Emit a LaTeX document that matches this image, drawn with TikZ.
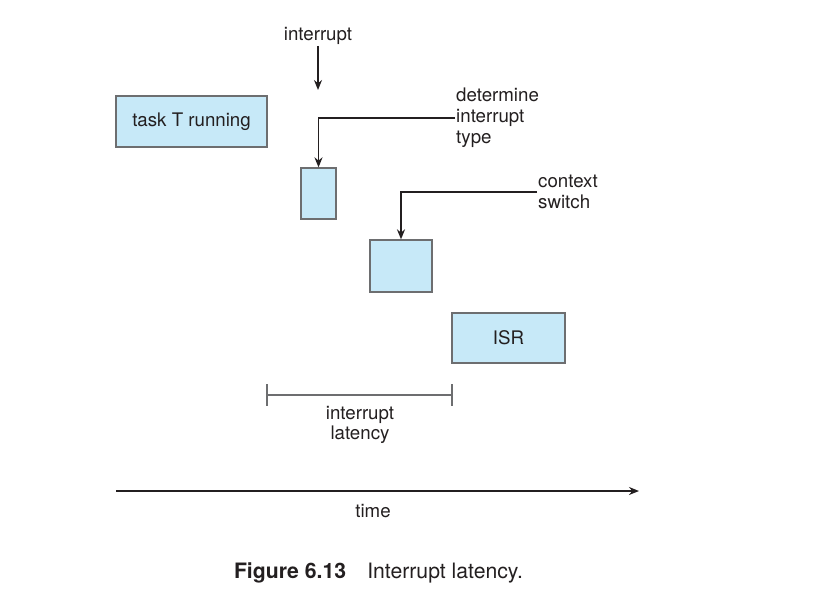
\documentclass[tikz,border=0pt]{standalone}
\usepackage{fontspec}
\setmainfont{TeX Gyre Heros}
\usetikzlibrary{arrows.meta,calc,positioning}
\definecolor{boxfill}{HTML}{C7E9F8}
\definecolor{boxline}{HTML}{6D6E70}
\definecolor{ink}{HTML}{231F20}
\tikzset{
  blk/.style   = {draw=boxline, line width=1.3pt, fill=boxfill, inner sep=0pt,
                  font=\fontsize{18.7}{20.8}\selectfont, text=ink},
  lbl/.style   = {inner sep=1pt, align=left, font=\fontsize{18.7}{20.8}\selectfont, text=ink},
  arr/.style   = {-{Stealth[length=10pt,width=8pt]}, line width=1.6pt, draw=ink},
  span/.style  = {line width=1.3pt, draw=boxline},
}

\begin{document}
\begin{tikzpicture}[x=1pt,y=-1pt]
  \useasboundingbox (0,0) rectangle (835,595);
  % boxes on the time line
  \node[blk, minimum width=151pt, minimum height=51pt] (task) at (191.5,121.5) {task T running};
  \node[blk, minimum width=35pt,  minimum height=51pt] (det)  at (318.5,193.5) {};
  \node[blk, minimum width=62pt,  minimum height=52pt] (ctx)  at (401,266) {};
  \node[blk, minimum width=113pt, minimum height=50pt] (isr)  at (508.5,338) {ISR};
  % labels and arrows
  \node[lbl] (intr) at (318,36) {interrupt};
  \coordinate (hit) at (318,90);
  \draw[arr] (intr.south) -- (hit);
  \node[lbl, anchor=west] (dtype) at (455,118) {determine\\interrupt\\type};
  \draw[arr] (dtype.west) -| (det.north);
  \node[lbl, anchor=west] (cswitch) at (537,192) {context\\switch};
  \draw[arr] (cswitch.west) -| (ctx.north);
  % latency span
  \coordinate (lat0) at (267,395);
  \coordinate (lat1) at (452,395);
  \draw[span] (lat0) -- (lat1);
  \draw[span] ($(lat0)+(0,-11)$) -- ($(lat0)+(0,11)$);
  \draw[span] ($(lat1)+(0,-11)$) -- ($(lat1)+(0,11)$);
  \node[lbl, align=center] (lat) at (360,425) {interrupt\\latency};
  % time axis
  \coordinate (t0) at (116,491);
  \coordinate (t1) at (639,491);
  \draw[arr] (t0) -- (t1);
  \node[lbl] (time) at (373,511) {time};
  \node[lbl, font=\fontsize{21.2}{24}\selectfont] (cap) at (378.5,573)
    {\textbf{Figure 6.13}\quad Interrupt latency.};
\end{tikzpicture}
\end{document}
